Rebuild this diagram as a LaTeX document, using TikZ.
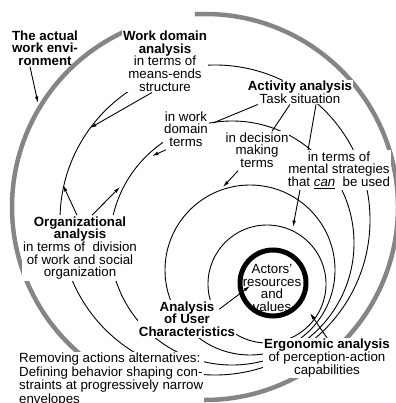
\documentclass[tikz,border=0pt]{standalone}
\usepackage{fontspec}
\setmainfont{Liberation Sans}
\usetikzlibrary{arrows.meta,calc}
\tikzset{
	ring/.style={line width=0.9pt},
	tag/.style={fill=white, inner sep=1pt, align=center, font=\fontsize{13.3}{12.7}\selectfont},
	pointer/.style={line width=0.9pt, -{Latex[length=6.5pt,width=3.6pt]}},
	tie/.style={line width=0.9pt}
}

\begin{document}
\begin{tikzpicture}[x=1pt, y=1pt]
			%%%%% START %%%%%
			\useasboundingbox (0,0) rectangle (395,-403);
			
			% the actual work environment
			\draw[line width=4.5pt, color=black!48] (205,-207) ++(93:193) arc[start angle=93, end angle=-245, radius=193];
			
			% envelopes
			\draw[ring] (215,-220) circle[radius=155];
			\draw[ring] (232,-243) circle[radius=122];
			\draw[ring] (250,-270) circle[radius=85];
			\draw[ring] (267,-284) circle[radius=59];
			\draw[line width=5pt] (273,-283) circle[radius=33];
			
			% labels
			\node[tag, fill=none] (env) at (45,-48) {\textbf{The actual}\\\textbf{work envi-}\\\textbf{ronment}};
			\node[tag] (wd) at (165,-61) {\textbf{Work domain}\\\textbf{analysis}\\in terms of\\means-ends\\structure};
			\node[tag] (act) at (300,-92) {\textbf{Activity analysis}\\Task situation};
			\node[tag] (wdt) at (186,-129) {in work\\domain\\terms};
			\node[tag] (dmt) at (257,-150) {in decision\\making\\terms};
			\node[tag] (mst) at (339,-170) {in terms of\\mental strategies\\that \underline{\textit{can}}\ \ be used};
			\node[tag] (org) at (80,-248) {\textbf{Organizational}\\\textbf{analysis}\\in terms of\ \ division\\of work and social\\organization};
			\node[tag] (uca) at (187,-319) {\textbf{Analysis}\\\textbf{of User}\\\textbf{Characteristics}};
			\node[tag, fill=none] (core) at (272,-288) {Actors'\\resources\\and\\values};
			\node[tag] (ergo) at (327,-358) {\textbf{Ergonomic analysis}\\of perception-action\\capabilities};
			\node[tag, align=left, anchor=north west, font=\fontsize{13.3}{12.3}\selectfont] (rem) at (18,-352) {Removing actions alternatives:\\Defining behavior shaping con-\\straints at progressively narrow\\envelopes};
			
			% where the pointers land
			\coordinate (envhit) at (38,-103);
			\coordinate (wdhit) at (90,-128);
			\coordinate (wdthit) at (152,-156);
			\coordinate (dmthit) at (223,-187);
			\coordinate (msthit) at (293,-227);
			\coordinate (orghitA) at (63,-185);
			\coordinate (orghitB) at (120,-187);
			\coordinate (ucahit) at (250,-286);
			\coordinate (ergohit) at (310,-313);
			
			\draw[pointer] ([xshift=-15pt]env.south) -- (envhit);
			\draw[pointer] ([xshift=-13pt]wd.south) -- (wdhit);
			\draw[pointer] ([xshift=3pt,yshift=-2pt]wdt.south west) -- (wdthit);
			\draw[pointer] ([xshift=-19pt,yshift=-2pt]dmt.south) -- (dmthit);
			\draw[pointer] ([xshift=-39pt]mst.south) -- (msthit);
			\draw[pointer] ([xshift=-3pt]org.north) -- (orghitA);
			\draw[pointer] ([xshift=12pt]org.north) -- (orghitB);
			\draw[pointer] ([xshift=-17pt,yshift=-9pt]uca.north east) -- (ucahit);
			\draw[pointer] (ergo.north) -- (ergohit);
			
			\draw[tie] ([xshift=-42pt]act.south) -- ([xshift=4pt,yshift=6pt]wdt.east);
			\draw[tie] ([xshift=-10pt]act.south) -- ([xshift=15pt]dmt.north);
			\draw[tie] ([xshift=16pt]act.south) -- ([xshift=-31pt]mst.north);
			%%%%% END %%%%%
\end{tikzpicture}
\end{document}
